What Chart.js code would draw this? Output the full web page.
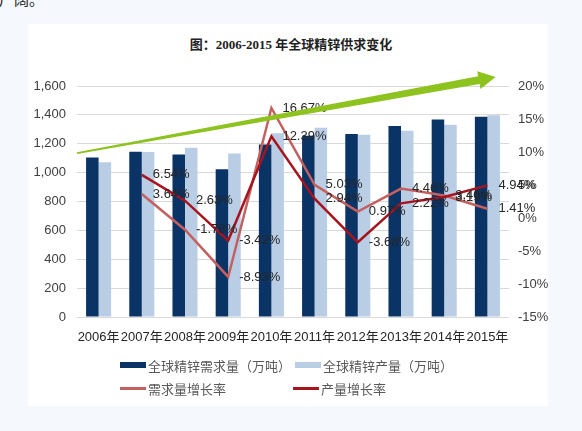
<!DOCTYPE html>
<html>
<head>
<meta charset="utf-8">
<script src="https://cdn.jsdelivr.net/npm/chart.js@4.4.1/dist/chart.umd.min.js"></script>
<style>
	html, body { margin: 0; padding: 0; }
	body { width: 582px; height: 431px; background: #f5f9fd; position: relative; overflow: hidden;
		font-family: 'Liberation Sans', 'Noto Sans CJK SC', sans-serif; }
	#topText { position: absolute; left: -1px; top: -9px; font-size: 15px; line-height: 1; color: #222;
		font-family: 'Noto Sans CJK SC', sans-serif; }
	#panel { position: absolute; left: 28px; top: 24px; width: 520px; height: 382px; background: #fff; }
	#title { position: absolute; left: 0; top: 34px; width: 582px; text-align: center; font-size: 13px;
		font-weight: bold; color: #222; font-family: 'Liberation Serif', 'Noto Sans CJK SC', serif; }
	#myChart { position: absolute; left: 0; top: 0; }
	.lg { position: absolute; display: flex; align-items: center; height: 16px; font-size: 13px; color: #595959;
		font-family: 'Noto Sans CJK SC', sans-serif; }
	.lg span.sw { display: inline-block; width: 26px; margin-right: 2px; }
</style>
</head>
<body>
<div id="topText">广阔。</div>
<div id="panel"></div>
<div id="title">图：2006-2015 年全球精锌供求变化</div>
<canvas id="myChart" width="582" height="431"></canvas>
<div id="legendDiv"></div>
<script>
// 데이터
var years = ['2006年','2007年','2008年','2009年','2010年','2011年','2012年','2013年','2014年','2015年'];
var demand = [1105, 1145, 1125, 1024, 1194, 1255, 1267, 1323, 1368, 1387];	// 全球精锌需求量（万吨）
var supply = [1072, 1142, 1172, 1132, 1272, 1310, 1262, 1290, 1331, 1397];	// 全球精锌产量（万吨）
var demandRate = [null, 3.64, -1.78, -8.93, 16.67, 5.03, 0.97, 4.46, 3.40, 1.41];	// 需求量增长率
var supplyRate = [null, 6.54, 2.63, -3.42, 12.39, 2.94, -3.68, 2.22, 3.19, 4.94];	// 产量增长率
var leftTicks = [0, 1600, 200];
var rightTicks = [-15, 20, 5];

var tickFont = { family: "'Liberation Sans', 'Noto Sans CJK SC', sans-serif", size: 13 };

//선 데이터 라벨
var rateLabels = {
	id: 'rateLabels',
	afterDatasetsDraw: function(chart){
		var ctx = chart.ctx;
		ctx.save();
		ctx.font = "13px 'Liberation Sans', sans-serif";
		ctx.fillStyle = '#262626';
		ctx.textAlign = 'left';
		ctx.textBaseline = 'middle';
		chart.data.datasets.forEach(function(ds, i){
			if(ds.type != 'line') return;
			var meta = chart.getDatasetMeta(i);
			meta.data.forEach(function(pt, j){
				if(ds.data[j] == null) return;
				ctx.fillText(ds.data[j].toFixed(2) + '%', pt.x + 11, pt.y);
			});
		});
		ctx.restore();
	}
};

//초록 화살표
var trendArrow = {
	id: 'trendArrow',
	afterDraw: function(chart){
		var xs = chart.scales.x, ys = chart.scales.y;
		var x0 = chart.chartArea.left, y0 = ys.getPixelForValue(1135);
		var x1 = xs.getPixelForValue(9.19), y1 = ys.getPixelForValue(1662);
		var len = Math.sqrt((x1-x0)*(x1-x0) + (y1-y0)*(y1-y0));
		var dx = (x1-x0)/len, dy = (y1-y0)/len;
		var nx = -dy, ny = dx;
		var bx = x1 - dx*17, by = y1 - dy*17;
		var ctx = chart.ctx;
		ctx.save();
		ctx.fillStyle = '#8dc21f';
		ctx.beginPath();
		ctx.moveTo(x0 + nx*0.8, y0 + ny*0.8);
		ctx.lineTo(bx + nx*4, by + ny*4);
		ctx.lineTo(bx + nx*9, by + ny*9);
		ctx.lineTo(x1, y1);
		ctx.lineTo(bx - nx*9, by - ny*9);
		ctx.lineTo(bx - nx*4, by - ny*4);
		ctx.lineTo(x0 - nx*0.8, y0 - ny*0.8);
		ctx.closePath();
		ctx.fill();
		ctx.restore();
	}
};

var ctx = document.getElementById('myChart');
var chart = new Chart(ctx, {
	type: 'bar',
	data: {
		labels: years,
		datasets: [
			{ type: 'bar', label: '全球精锌需求量（万吨）', data: demand, backgroundColor: '#0b3466', yAxisID: 'y', order: 3 },
			{ type: 'bar', label: '全球精锌产量（万吨）', data: supply, backgroundColor: '#b9cde5', yAxisID: 'y', order: 3 },
			{ type: 'line', label: '需求量增长率', data: demandRate, borderColor: '#c4605f', borderWidth: 2.5,
				pointRadius: 0, tension: 0, yAxisID: 'y1', order: 1 },
			{ type: 'line', label: '产量增长率', data: supplyRate, borderColor: '#a8141e', borderWidth: 2.5,
				pointRadius: 0, tension: 0, yAxisID: 'y1', order: 0 }
		]
	},
	options: {
		responsive: false,
		animation: false,
		layout: { padding: { left: 0, right: 0, top: 86, bottom: 0 } },
		categoryPercentage: 0.58,
		barPercentage: 1.0,
		plugins: { legend: { display: false }, title: { display: false }, tooltip: { enabled: false } },
		scales: {
			x: {
				grid: { display: false, drawTicks: false },
				border: { display: false },
				ticks: { font: tickFont, color: '#262626', padding: 13, autoSkip: false, maxRotation: 0, minRotation: 0 },
				afterFit: function(scale){ scale.height = 114; }
			},
			y: {
				position: 'left',
				min: leftTicks[0], max: leftTicks[1],
				grid: { color: '#d9d9d9', drawTicks: false },
				border: { display: false },
				ticks: { stepSize: leftTicks[2], font: tickFont, color: '#404040', padding: 11,
					callback: function(v){ return v.toLocaleString('en-US'); } },
				afterFit: function(scale){ scale.width = 77; }
			},
			y1: {
				position: 'right',
				min: rightTicks[0], max: rightTicks[1],
				grid: { display: false, drawTicks: false },
				border: { display: false },
				ticks: { stepSize: rightTicks[2], font: tickFont, color: '#404040', padding: 9,
					callback: function(v){ return v + '%'; } },
				afterFit: function(scale){ scale.width = 73; }
			}
		}
	},
	plugins: [rateLabels, trendArrow]
});

//범례 (2열)
var legendPos = [[120, 357], [295, 357], [120, 380], [293, 380]];
chart.data.datasets.forEach(function(ds, i){
	var isBar = ds.type == 'bar';
	var color = isBar ? ds.backgroundColor : ds.borderColor;
	var item = document.createElement('div');
	item.className = 'lg';
	item.style.left = legendPos[i][0] + 'px';
	item.style.top = legendPos[i][1] + 'px';
	var sw = document.createElement('span');
	sw.className = 'sw';
	sw.style.height = (isBar ? 6 : 3) + 'px';
	sw.style.background = color;
	item.appendChild(sw);
	item.appendChild(document.createTextNode(ds.label));
	document.getElementById('legendDiv').appendChild(item);
});
</script>
</body>
</html>
